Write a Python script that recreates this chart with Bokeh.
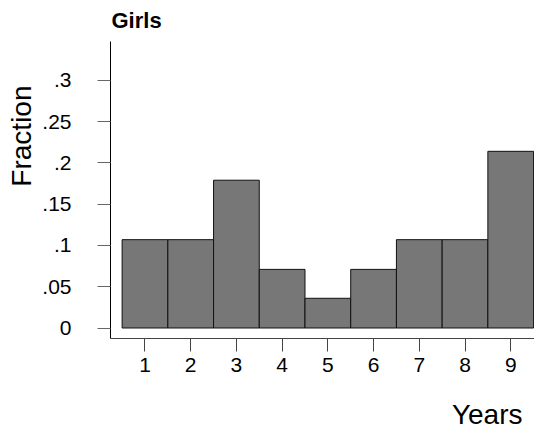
from bokeh.plotting import figure
from bokeh.models import Range1d, FixedTicker, Title, ColumnDataSource, LinearAxis
from bokeh.embed import file_html
from bokeh.resources import INLINE

# Data
years = [1, 2, 3, 4, 5, 6, 7, 8, 9]
fraction = [0.107, 0.107, 0.179, 0.071, 0.036, 0.071, 0.107, 0.107, 0.214]
y_ticks = [0, 0.05, 0.1, 0.15, 0.2, 0.25, 0.3]
y_tick_labels = ["0", ".05", ".1", ".15", ".2", ".25", ".3"]
x_ticks = [1, 2, 3, 4, 5, 6, 7, 8, 9]

FONT = "Liberation Sans"

src = ColumnDataSource(dict(x=years, top=fraction))

p = figure(width=534, height=432, output_backend="svg", toolbar_location=None,
           x_range=Range1d(0.246, 9.52), y_range=Range1d(-0.0127, 0.347),
           min_border_left=109, min_border_right=0, min_border_top=41,
           min_border_bottom=94)
p.outline_line_color = None
p.xgrid.visible = False
p.ygrid.visible = False
p.background_fill_color = "white"

p.vbar(x="x", top="top", bottom=0, width=1.0, source=src,
       fill_color="#777777", line_color="#111111", line_width=1)

# y axis
ya = p.yaxis[0]
ya.ticker = FixedTicker(ticks=y_ticks)
ya.major_label_overrides = {t: l for t, l in zip(y_ticks, y_tick_labels)}
ya.minor_tick_line_color = None
ya.major_tick_out = 13
ya.major_tick_in = 0
ya.major_tick_line_color = "#666666"
ya.axis_line_color = "black"
ya.major_label_standoff = 26
ya.major_label_text_font = FONT
ya.major_label_text_font_size = "21px"
ya.major_label_text_color = "black"

# x axis
xa = p.xaxis[0]
xa.ticker = FixedTicker(ticks=x_ticks)
xa.minor_tick_line_color = None
xa.major_tick_out = 13
xa.major_tick_in = 0
xa.major_tick_line_color = "#444444"
xa.axis_line_color = "#444444"
xa.major_label_standoff = 6
xa.major_label_text_font = FONT
xa.major_label_text_font_size = "21px"
xa.major_label_text_color = "black"

# blank spacer band below the x axis (white tick on white, empty label)
spacer = LinearAxis(ticker=FixedTicker(ticks=[5]), axis_line_color=None,
                    major_tick_line_color="white", minor_tick_line_color=None,
                    major_tick_out=22, major_tick_in=0, minor_tick_out=0,
                    minor_tick_in=0, major_label_standoff=0,
                    major_label_overrides={5: ""},
                    major_label_text_font_size="1px")
p.add_layout(spacer, "below")

# Title
p.title.text = "Girls"
p.title.text_font = FONT
p.title.text_font_size = "22px"
p.title.text_font_style = "bold"
p.title.text_color = "black"
p.title.align = "left"
p.title.offset = 1
p.title.standoff = 14
p.title.vertical_align = "top"

# Axis titles
p.add_layout(Title(text="Fraction", text_font=FONT, text_font_size="28px",
                   text_font_style="normal", text_color="black",
                   align="right", offset=44, standoff=6), "left")
p.add_layout(Title(text="Years", text_font=FONT, text_font_size="28px",
                   text_font_style="normal", text_color="black",
                   align="right", offset=12, standoff=0), "below")

open("out.html", "w").write(file_html(p, INLINE))
